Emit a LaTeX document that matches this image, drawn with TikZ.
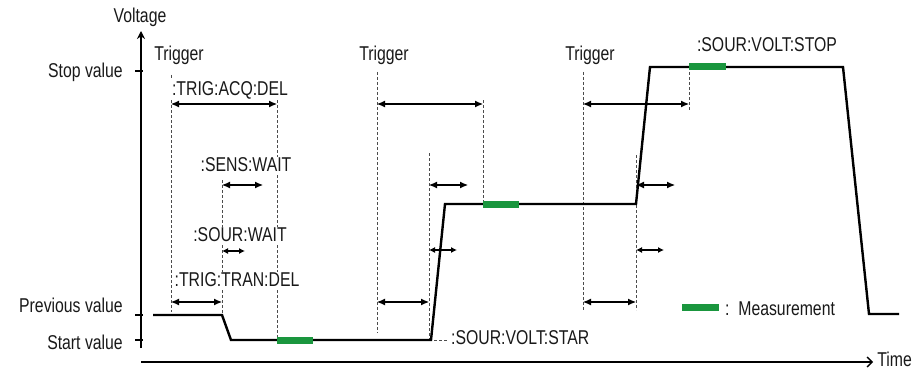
\documentclass[tikz,border=0pt]{standalone}
\usepackage{fontspec}
\setmainfont[FakeStretch=0.79]{Liberation Sans}
\usetikzlibrary{arrows.meta}
\definecolor{measgreen}{RGB}{26,150,62}
\begin{document}
\begin{tikzpicture}[x=1pt,y=-1pt,
  lbl/.style={font=\fontsize{20}{23}\selectfont, inner sep=1pt, text=black!90},
  wlbl/.style={lbl, fill=white},
  wave/.style={line width=2.4pt, line join=miter},
  axis/.style={line width=2.2pt},
  tick/.style={line width=1.6pt},
  guide/.style={dash pattern=on 3pt off 2pt, line width=0.8pt, draw=black!70},
  span/.style={{Latex[length=8pt,width=7pt]}-{Latex[length=8pt,width=7pt]}, line width=1.1pt},
  sspan/.style={{Latex[length=6pt,width=6pt]}-{Latex[length=6pt,width=6pt]}, line width=1.1pt},
  meas/.style={line width=7pt, draw=measgreen}]
\useasboundingbox (0,0) rectangle (924,369);

% axes
\coordinate (yb) at (141,348);
\coordinate (yt) at (141,31);
\coordinate (xl) at (141,362);
\coordinate (xr) at (873,362);
\draw[axis,-{Stealth[length=8pt,width=8pt]}] (yb) -- (yt);
\draw[axis,-{Straight Barb[length=5pt,width=10pt,line width=1.4pt]}] (xl) -- (xr);
\node[lbl] (volt) at (140,17) {Voltage};
\node[lbl, anchor=east] (time) at (913,359) {Time};

% ticks and level labels
\coordinate (t1a) at (135,71);  \coordinate (t1b) at (143,71);
\coordinate (t2a) at (135,315); \coordinate (t2b) at (143,315);
\coordinate (t3a) at (135,340); \coordinate (t3b) at (143,340);
\draw[tick] (t1a) -- (t1b);
\draw[tick] (t2a) -- (t2b);
\draw[tick] (t3a) -- (t3b);
\node[lbl, anchor=east] (stopv) at (124,72) {Stop value};
\node[lbl, anchor=east] (prevv) at (124,305) {Previous value};
\node[lbl, anchor=east] (startv) at (124,342) {Start value};

% guide lines
\coordinate (g1a) at (171,75);  \coordinate (g1b) at (171,312);
\coordinate (g2a) at (222,180); \coordinate (g2b) at (222,315);
\coordinate (g3a) at (277,100); \coordinate (g3b) at (277,337);
\coordinate (g4a) at (377,72);  \coordinate (g4b) at (377,333);
\coordinate (g5a) at (429,153); \coordinate (g5b) at (429,340);
\coordinate (g6a) at (483,100); \coordinate (g6b) at (483,204);
\coordinate (g7a) at (583,72);  \coordinate (g7b) at (583,310);
\coordinate (g8a) at (636,155); \coordinate (g8b) at (636,310);
\coordinate (g9a) at (689,67);  \coordinate (g9b) at (689,110);
\foreach \g in {1,...,9} \draw[guide] (g\g a) -- (g\g b);
\coordinate (sa) at (434,340); \coordinate (sb) at (448,340);
\draw[guide] (sa) -- (sb);

% labels
\node[lbl] (trig1) at (179,55) {Trigger};
\node[lbl] (trig2) at (384,55) {Trigger};
\node[lbl] (trig3) at (590,55) {Trigger};
\node[wlbl] (acq) at (230,90) {:TRIG:ACQ:DEL};
\node[wlbl] (sens) at (246,165) {:SENS:WAIT};
\node[wlbl] (sour) at (240,235) {:SOUR:WAIT};
\node[wlbl] (tran) at (237,280) {:TRIG:TRAN:DEL};
\node[lbl, anchor=west] (star) at (450,338) {:SOUR:VOLT:STAR};
\node[lbl] (stop) at (767,45) {:SOUR:VOLT:STOP};

% spans
\coordinate (a1a) at (171,104); \coordinate (a1b) at (277,104);
\coordinate (a2a) at (222,185); \coordinate (a2b) at (263,185);
\coordinate (a3a) at (222,251); \coordinate (a3b) at (245,251);
\coordinate (a4a) at (171,302); \coordinate (a4b) at (222,302);
\coordinate (b1a) at (377,104); \coordinate (b1b) at (483,104);
\coordinate (b2a) at (429,185); \coordinate (b2b) at (468,185);
\coordinate (b3a) at (429,250); \coordinate (b3b) at (457,250);
\coordinate (b4a) at (377,302); \coordinate (b4b) at (429,302);
\coordinate (c1a) at (583,104); \coordinate (c1b) at (689,104);
\coordinate (c2a) at (636,185); \coordinate (c2b) at (675,185);
\coordinate (c3a) at (636,250); \coordinate (c3b) at (664,250);
\coordinate (c4a) at (583,302); \coordinate (c4b) at (636,302);
\foreach \s in {a,b,c} {
  \draw[span] (\s1a) -- (\s1b);
  \draw[span] (\s2a) -- (\s2b);
  \draw[sspan] (\s3a) -- (\s3b);
  \draw[span] (\s4a) -- (\s4b);
}

% waveform
\draw[wave] (153,315) -- (222,315) -- (231,340) -- (431,340) -- (445,204)
  -- (636,204) -- (650,67) -- (843,67) -- (869,314) -- (899,314);

% measurements
\coordinate (m1a) at (277,340); \coordinate (m1b) at (313,340);
\coordinate (m2a) at (483,204); \coordinate (m2b) at (519,204);
\coordinate (m3a) at (689,67);  \coordinate (m3b) at (726,67);
\coordinate (m4a) at (682,307); \coordinate (m4b) at (719,307);
\foreach \m in {1,...,4} \draw[meas] (m\m a) -- (m\m b);
\node[lbl, anchor=west] (legend) at (724,309) {:\ \ Measurement};
\end{tikzpicture}
\end{document}
